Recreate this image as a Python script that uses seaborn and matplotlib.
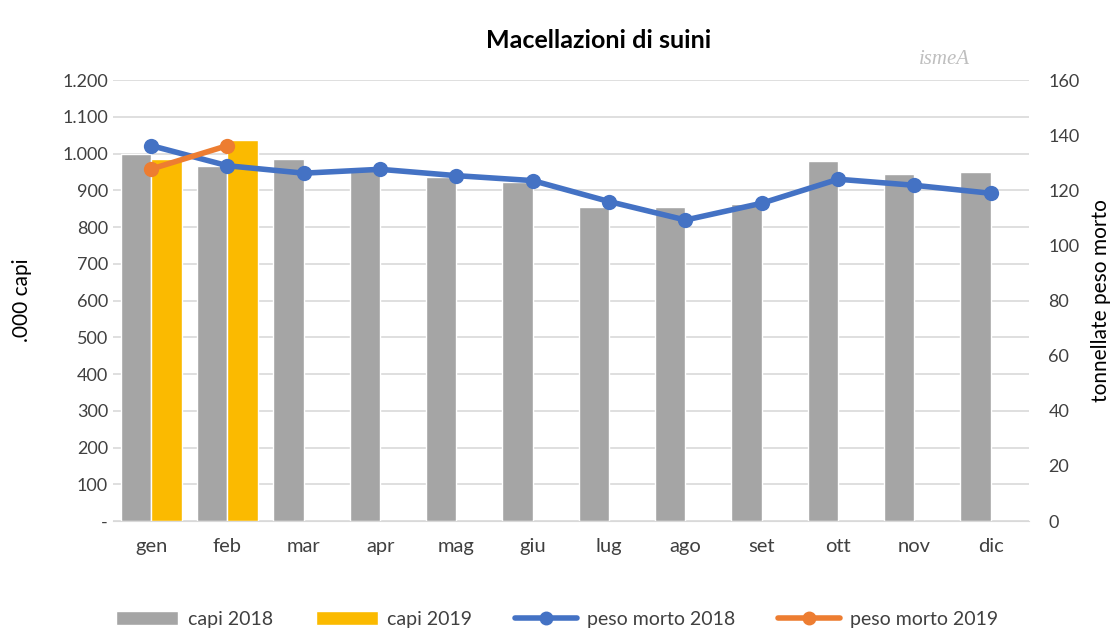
import matplotlib
matplotlib.use("Agg")
import matplotlib.pyplot as plt
from matplotlib.lines import Line2D
from matplotlib.patches import Patch
from matplotlib.ticker import FuncFormatter, MultipleLocator
import seaborn as sns
import pandas as pd
import numpy as np

# data
mesi = ["gen", "feb", "mar", "apr", "mag", "giu", "lug", "ago", "set", "ott", "nov", "dic"]
capi_2018 = [1000, 966, 985, 960, 937, 923, 855, 855, 862, 980, 945, 949]
capi_2019 = [985, 1037] + [np.nan] * 10
peso_2018 = [136.2, 128.9, 126.2, 127.6, 125.3, 123.5, 115.9, 109.2, 115.3, 124.0, 121.8, 118.9]
peso_2019 = [127.7, 136.2] + [np.nan] * 10

GRAY = "#A5A5A5"
YELLOW = "#FBBA00"
BLUE = "#4472C4"
ORANGE = "#ED7D31"
TXT = "#404040"

sns.set_style("white")
plt.rcParams["font.family"] = ["Lato", "DejaVu Sans"]

bars = pd.DataFrame({
    "mese": mesi * 2,
    "anno": ["capi 2018"] * 12 + ["capi 2019"] * 12,
    "capi": capi_2018 + capi_2019,
})

fig = plt.figure(figsize=(11.14, 6.30), dpi=100)
ax = fig.add_axes([0.1014, 0.173, 0.8223, 0.700])

sns.barplot(data=bars, x="mese", y="capi", hue="anno", order=mesi,
            palette=[GRAY, YELLOW], width=0.8, gap=0, ax=ax, legend=False,
            saturation=1)
ax.set_ylim(0, 1200)
ax.set_xlim(-0.5, 11.5)
ax.yaxis.set_major_locator(MultipleLocator(100))
ax.yaxis.set_major_formatter(FuncFormatter(
    lambda v, p: "-" if v == 0 else f"{int(v):,}".replace(",", ".")))
ax.grid(axis="y", color="#D9D9D9", linewidth=1.2)
ax.set_axisbelow(True)
for s in ["top", "right", "left"]:
    ax.spines[s].set_visible(False)
ax.spines["bottom"].set_color("#D9D9D9")
ax.set_xlabel("")
ax.set_ylabel(".000 capi", fontsize=15, color="black", labelpad=22)
ax.tick_params(axis="y", length=0, labelsize=13, labelcolor=TXT)
ax.tick_params(axis="x", length=0, labelsize=14.5, labelcolor=TXT, pad=12)

ax2 = ax.twinx()
lines = pd.DataFrame({"mese": mesi, "p18": peso_2018, "p19": peso_2019})
sns.lineplot(data=lines, x="mese", y="p18", color=BLUE, marker="o", markersize=11,
             markeredgewidth=0, linewidth=4, ax=ax2, sort=False)
sns.lineplot(data=lines.dropna(), x="mese", y="p19", color=ORANGE, marker="o",
             markersize=11, markeredgewidth=0, linewidth=4, ax=ax2, sort=False)
ax2.set_ylim(0, 160)
ax2.set_xlim(-0.5, 11.5)
ax2.yaxis.set_major_locator(MultipleLocator(20))
for s in ["top", "right", "left", "bottom"]:
    ax2.spines[s].set_visible(False)
ax2.set_ylabel("tonnellate peso morto", fontsize=15, color="black", labelpad=8)
ax2.tick_params(axis="y", length=0, labelsize=13, labelcolor=TXT, pad=14)

fig.text(0.537, 0.935, "Macellazioni di suini", ha="center", va="center",
         fontsize=18, fontweight="bold", color="black")
fig.text(0.848, 0.905, "ismeA", ha="center", va="center", fontsize=15,
         color="#BFBFBF", family="Liberation Serif", style="italic")

handles = [
    Patch(facecolor=GRAY, label="capi 2018"),
    Patch(facecolor=YELLOW, label="capi 2019"),
    Line2D([], [], color=BLUE, marker="o", markersize=9, linewidth=4, label="peso morto 2018"),
    Line2D([], [], color=ORANGE, marker="o", markersize=9, linewidth=4, label="peso morto 2019"),
]
fig.legend(handles=handles, loc="center", bbox_to_anchor=(0.5, 0.017), ncol=4,
           frameon=False, fontsize=14, handlelength=3.2, columnspacing=2.2,
           handletextpad=0.5, labelcolor=TXT)

fig.savefig("out.png", dpi=100)
